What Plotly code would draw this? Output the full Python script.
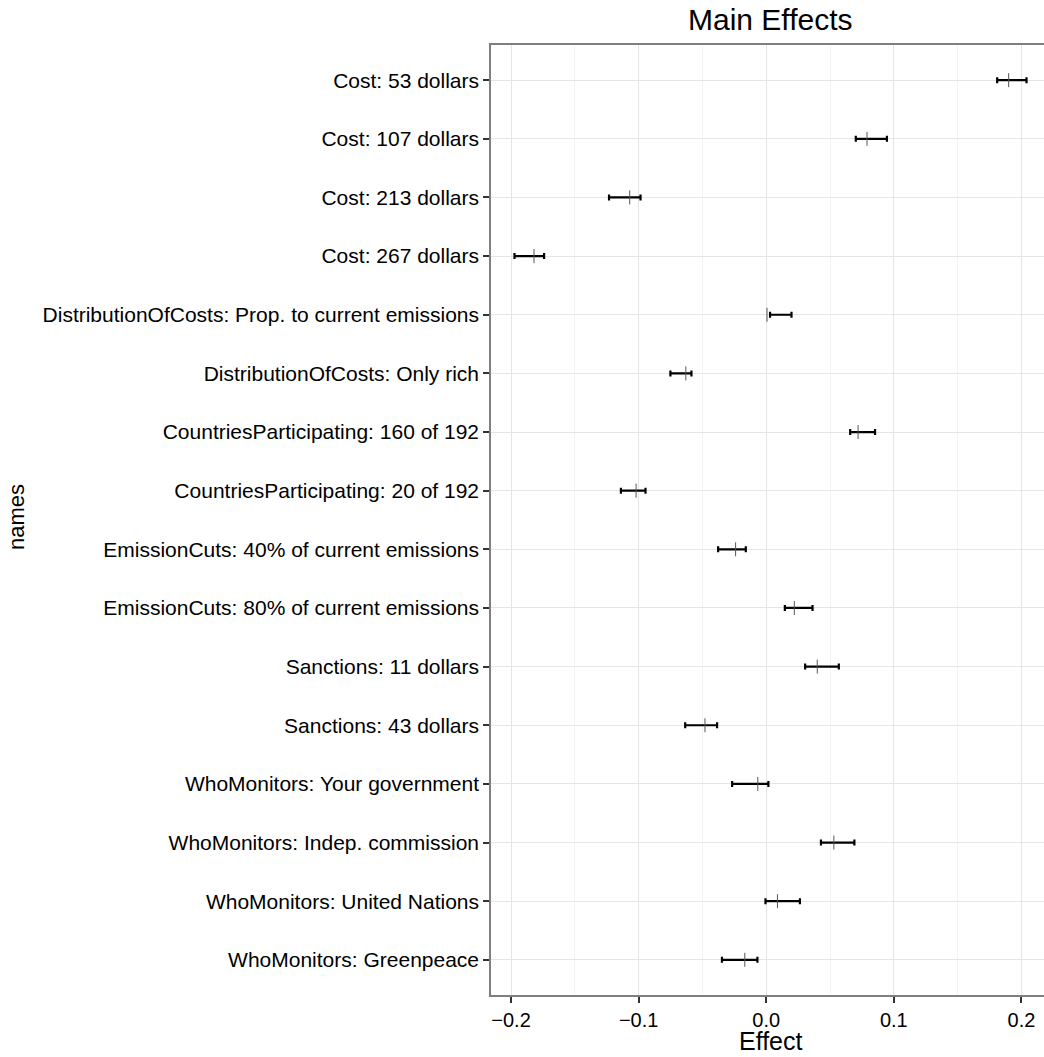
import plotly.graph_objects as go

names = [
    "Cost: 53 dollars",
    "Cost: 107 dollars",
    "Cost: 213 dollars",
    "Cost: 267 dollars",
    "DistributionOfCosts: Prop. to current emissions",
    "DistributionOfCosts: Only rich",
    "CountriesParticipating: 160 of 192",
    "CountriesParticipating: 20 of 192",
    "EmissionCuts: 40% of current emissions",
    "EmissionCuts: 80% of current emissions",
    "Sanctions: 11 dollars",
    "Sanctions: 43 dollars",
    "WhoMonitors: Your government",
    "WhoMonitors: Indep. commission",
    "WhoMonitors: United Nations",
    "WhoMonitors: Greenpeace",
]
effect = [0.190, 0.079, -0.107, -0.182, 0.0006, -0.063, 0.072, -0.102,
          -0.024, 0.022, 0.040, -0.048, -0.0066, 0.053, 0.0088, -0.0168]
lower = [0.181, 0.0702, -0.1232, -0.1973, 0.0030, -0.0751, 0.0658, -0.1139,
         -0.0377, 0.0146, 0.0305, -0.0635, -0.0267, 0.0429, -0.0006, -0.0347]
upper = [0.204, 0.0946, -0.0985, -0.1741, 0.0198, -0.0586, 0.0853, -0.0946,
         -0.0160, 0.0363, 0.0569, -0.0385, 0.0017, 0.0691, 0.0264, -0.0069]
x_ticks = [-0.2, -0.1, 0.0, 0.1, 0.2]
x_tick_labels = ["\u22120.2", "\u22120.1", "0.0", "0.1", "0.2"]

FONT = "Liberation Sans, Arial, Helvetica, sans-serif"

mid = [(l + u) / 2 for l, u in zip(lower, upper)]
half = [(u - l) / 2 for l, u in zip(lower, upper)]

fig = go.Figure()
fig.add_trace(go.Scatter(
    x=mid, y=names, mode="markers",
    marker=dict(size=1, opacity=0),
    error_x=dict(type="data", array=half, symmetric=True,
                 color="black", thickness=2.2, width=3),
    showlegend=False, hoverinfo="skip",
))
fig.add_trace(go.Scatter(
    x=effect, y=names, mode="markers",
    marker=dict(symbol="line-ns", size=10,
                line=dict(width=1, color="#555555"), color="#555555"),
    showlegend=False,
))

fig.update_layout(
    width=1044, height=1057,
    margin=dict(l=491, r=0, t=45, b=62),
    paper_bgcolor="white", plot_bgcolor="white",
    font=dict(family=FONT, color="black"),
    xaxis=dict(
        range=[-0.2157, 0.2177],
        tickvals=x_ticks, ticktext=x_tick_labels,
        tickfont=dict(size=20, color="black"),
        ticks="outside", ticklen=6, tickwidth=1.8, tickcolor="#333333",
        showgrid=True, gridcolor="#e5e5e5", gridwidth=1,
        minor=dict(dtick=0.05, tick0=0, showgrid=True,
                   gridcolor="#f3f3f3", gridwidth=1, ticks=""),
        showline=True, linecolor="#7f7f7f", linewidth=1.5, mirror=True,
        zeroline=False,
    ),
    yaxis=dict(
        type="category",
        categoryorder="array", categoryarray=names,
        range=[len(names) - 0.4, -0.6],
        tickfont=dict(size=21, color="black"),
        ticks="outside", ticklen=6, tickwidth=1.7, tickcolor="#333333",
        showgrid=True, gridcolor="#e5e5e5", gridwidth=1,
        showline=True, linecolor="#7f7f7f", linewidth=1.5, mirror=False,
        zeroline=False,
    ),
    annotations=[
        dict(text="Main Effects", xref="paper", yref="paper",
             x=0.506, y=1 + (45 - 20) / 950, xanchor="center", yanchor="middle",
             showarrow=False, font=dict(size=30, color="black", family=FONT)),
        dict(text="Effect", xref="paper", yref="paper",
             x=0.506, y=-(1041 - 995) / 950, xanchor="center", yanchor="middle",
             showarrow=False, font=dict(size=25, color="black", family=FONT)),
        dict(text="names", xref="paper", yref="paper",
             x=(16 - 491) / 553, y=1 - (517 - 45) / 950, xanchor="center", yanchor="middle",
             textangle=-90, showarrow=False,
             font=dict(size=22, color="black", family=FONT)),
    ],
)

fig.write_html("out.html")
